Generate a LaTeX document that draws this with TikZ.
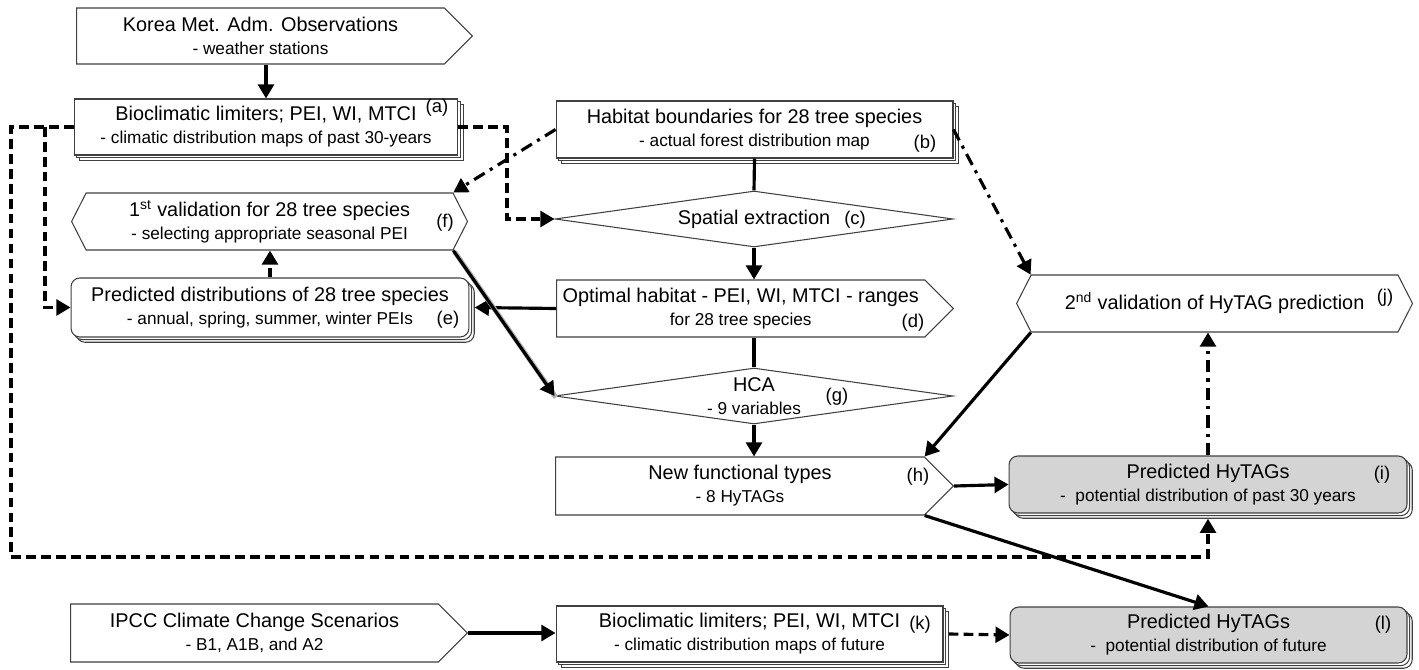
\documentclass[tikz,border=0pt]{standalone}
\usepackage{fontspec}
\setmainfont{Liberation Sans}
\usetikzlibrary{shapes.symbols,shapes.geometric,shadows,arrows.meta}

\newcommand{\subline}[1]{{\fontsize{9.8}{12}\selectfont #1}}

\tikzstyle{basebox} = [draw=black!75, line width=0.6pt, fill=white, align=center, inner sep=0pt, font=\fontsize{11.3}{13}\selectfont]
\tikzstyle{stackbox} = [basebox, rectangle,
    copy shadow={shadow xshift=3pt, shadow yshift=-3pt, fill=white, draw=black!75, line width=0.6pt},
    copy shadow={shadow xshift=1.5pt, shadow yshift=-1.5pt, fill=white, draw=black!75, line width=0.6pt}]
\tikzstyle{roundbox} = [stackbox, rounded corners=5pt]
\tikzstyle{greybox} = [roundbox, fill=black!17]
\tikzstyle{arrowbox} = [basebox, shape=signal, signal to=east, signal pointer angle=90]
\tikzstyle{hexbox} = [basebox, shape=signal, signal to=west and east, signal pointer angle=126]
\tikzstyle{decbox} = [basebox, diamond, aspect=7]
\tikzstyle{tagtext} = [inner sep=0pt, font=\fontsize{10.5}{12}\selectfont]
\tikzstyle{link} = [line width=1.8pt]
\tikzstyle{flow} = [link, -{Triangle[length=8pt,width=9pt]}]
\tikzstyle{dashflow} = [flow, dash pattern=on 5.5pt off 3pt]
\tikzstyle{dotflow} = [flow, dash pattern=on 7pt off 3.5pt on 1.8pt off 3.5pt]

\begin{document}
\begin{tikzpicture}[x=0.02cm, y=-0.02cm]
\useasboundingbox (0,0) rectangle (1419,669);

% left column
\node[arrowbox, anchor=west, minimum width=7.92cm, minimum height=1.12cm] (kor) at (76,36)
    {Korea Met. Adm. Observations\\\subline{- weather stations}};
\node[stackbox, minimum width=7.68cm, minimum height=1.12cm] (a) at (266,127)
    {Bioclimatic limiters; PEI, WI, MTCI\\\subline{- climatic distribution maps of past 30-years}};
\node[hexbox, anchor=west, minimum width=7.92cm, minimum height=1.14cm] (f) at (71,221.5)
    {1\textsuperscript{st} validation for 28 tree species\\\subline{- selecting appropriate seasonal PEI}};
\node[roundbox, minimum width=7.96cm, minimum height=1.18cm] (e) at (270,307.5)
    {Predicted distributions of 28 tree species\\\subline{- annual, spring, summer, winter PEIs}};
\node[arrowbox, anchor=west, minimum width=7.94cm, minimum height=1.16cm] (ipcc) at (70,633)
    {IPCC Climate Change Scenarios\\\subline{- B1, A1B, and A2}};

% middle column
\node[stackbox, minimum width=7.94cm, minimum height=1.14cm] (b) at (754.5,129.5)
    {Habitat boundaries for 28 tree species\\\subline{- actual forest distribution map}};
\node[decbox, minimum width=7.96cm, minimum height=1.12cm] (c) at (754,219) {Spatial extraction};
\node[arrowbox, anchor=west, minimum width=7.94cm, minimum height=1.14cm] (d) at (556,308.5)
    {Optimal habitat - PEI, WI, MTCI - ranges\\\subline{for 28 tree species}};
\node[decbox, minimum width=7.96cm, minimum height=1.12cm] (g) at (754,396)
    {HCA\\\subline{- 9 variables}};
\node[arrowbox, anchor=west, minimum width=7.96cm, minimum height=1.16cm] (h) at (555,486)
    {New functional types\\\subline{- 8 HyTAGs}};
\node[stackbox, minimum width=7.74cm, minimum height=1.12cm] (k) at (749.5,634)
    {Bioclimatic limiters; PEI, WI, MTCI\\\subline{- climatic distribution maps of future}};

% right column
\node[hexbox, anchor=west, minimum width=7.92cm, minimum height=1.14cm] (j) at (1016,303.5)
    {2\textsuperscript{nd} validation of HyTAG prediction};
\node[greybox, minimum width=7.96cm, minimum height=1.14cm] (i) at (1208,484.5)
    {Predicted HyTAGs\\\subline{-\ \ potential distribution of past 30 years}};
\node[greybox, minimum width=7.94cm, minimum height=1.12cm] (l) at (1208.5,635)
    {Predicted HyTAGs\\\subline{-\ \ potential distribution of future}};

% tags
\node[tagtext] (ta) at (437,108) {(a)};
\node[tagtext] (tb) at (925,144) {(b)};
\node[tagtext] (tc) at (855,220) {(c)};
\node[tagtext] (td) at (913,323) {(d)};
\node[tagtext] (te) at (448,320) {(e)};
\node[tagtext] (tf) at (445,223) {(f)};
\node[tagtext] (tg) at (837,397) {(g)};
\node[tagtext] (th) at (918,477) {(h)};
\node[tagtext] (ti) at (1382,475) {(i)};
\node[tagtext] (tj) at (1385,298) {(j)};
\node[tagtext] (tk) at (920,625) {(k)};
\node[tagtext] (tl) at (1383,625) {(l)};

% connectors
\coordinate (lft) at (11,557);
\coordinate (brch) at (45,127);
\coordinate (jog) at (507,219);

\draw[flow] (a.north |- kor.south) -- (a.north);
\draw[dashflow] (a.west) -| (lft) -| ([yshift=-3pt]i.south);
\draw[dashflow] (brch) |- (e.west);
\draw[dashflow] (a.east) -| (jog) |- (c.west);
\draw[dotflow] (b.west) -- (f.north east);
\draw[link] (b.south) -- (c.north);
\draw[dotflow] (b.east) -- (j.north west);
\draw[flow] (c.south) -- (c.south |- d.north);
\draw[flow] (d.west) -- ([xshift=3pt]e.east);
\draw[flow, preaction={draw=black!30, line width=2.8pt, -, transform canvas={xshift=0.8pt, yshift=-0.8pt}}] (f.south east) -- (g.west);
\draw[dashflow] (e.north) -- (e.north |- f.south);
\draw[link] (g.north |- d.south) -- (g.north);
\draw[flow] (g.south) -- (g.south |- h.north);
\draw[flow] (j.south west) -- (h.north east);
\draw[flow] (h.east) -- (i.west);
\draw[flow] (h.south east) -- (l.north);
\draw[dotflow] (i.north) -- (i.north |- j.south);
\draw[flow] (ipcc.east) -- (ipcc.east -| k.west);
\draw[dashflow] ([xshift=3pt]k.east) -- (l.west);
\end{tikzpicture}
\end{document}
